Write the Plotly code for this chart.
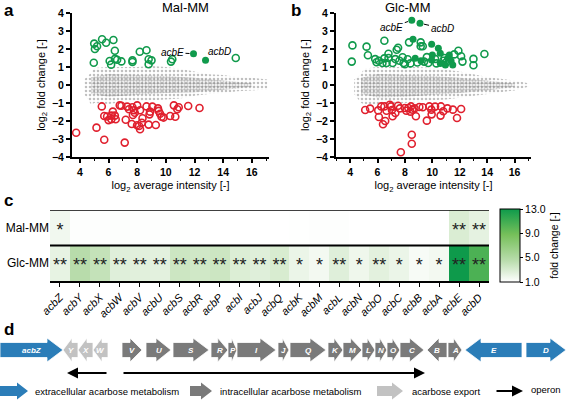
import plotly.graph_objects as go

FONT = "Liberation Sans, Arial, sans-serif"
GREEN = "#109a4c"
RED = "#e0202e"
BLUE = "#2b7db8"
DGREY = "#7a7a7a"
LGREY = "#c2c2c2"

# ---------------- Panel a (Mal-MM) data ----------------
a_up_x = [5.0, 5.2, 5.05, 5.55, 5.83, 6.34, 6.44, 4.97, 6.08, 6.18, 6.45, 6.6, 6.9, 7.67, 7.67, 8.18, 8.65, 8.8, 9.0, 8.8, 10.36, 10.45, 14.88]
a_up_y = [2.3, 2.15, 2.0, 2.54, 2.35, 2.5, 1.9, 1.24, 1.33, 1.13, 1.45, 1.4, 1.31, 1.37, 1.28, 1.85, 1.93, 1.43, 1.37, 1.15, 1.3, 1.43, 1.5]
a_acb_x = [11.93, 12.77]
a_acb_y = [1.74, 1.37]
a_acb_lbl = ["acbE", "acbD"]
a_dn_x = [3.74, 5.53, 5.7, 5.16, 5.7, 6.3, 6.2, 6.44, 6.2, 6.5, 7.2, 7.13, 6.78, 7.3, 7.43, 7.67, 7.77, 7.7, 7.83, 7.62,
          8.0, 8.2, 8.37, 8.32, 8.13, 8.2, 7.99, 8.8, 8.65, 8.9, 9.06, 8.86, 9.3, 9.45, 9.6, 9.7, 9.84, 9.5, 10.3, 10.66,
          10.56, 10.9, 10.8, 11.56, 12.35, 6.9, 5.9, 6.0]
a_dn_y = [-2.65, -1.19, -1.72, -2.37, -3.04, -1.48, -1.7, -1.7, -1.9, -1.9, -1.93, -3.2, -1.13, -1.2, -1.35, -1.24, -1.4, -1.67, -1.54, -2.17,
          -1.13, -1.4, -1.85, -2.1, -2.28, -2.46, -2.24, -2.2, -1.19, -1.48, -1.2, -1.63, -2.22, -1.3, -1.6, -1.76, -1.81, -1.44, -1.72, -1.76,
          -1.13, -1.24, -1.35, -1.17, -1.28, -1.15, -1.75, -1.95]
# envelope of the grey cloud of unchanged genes (outer / dense core)
a_cloud_x = [4.3, 4.8, 5, 6, 7, 8, 9, 10, 11, 12, 13, 14, 15, 16, 17.1]
a_cloud_hi = [0.3, 0.7, 0.95, 1.0, 1.0, 1.0, 1.05, 1.0, 0.9, 0.75, 0.6, 0.55, 0.45, 0.4, 0.3]
a_cloud_lo = [-0.5, -1.1, -1.0, -1.05, -0.95, -0.9, -0.85, -0.8, -0.75, -0.6, -0.5, -0.45, -0.35, -0.3, -0.25]
a_core_x = [4.8, 6, 8, 10, 12, 13.5, 15, 16]
a_core_hi = [0.45, 0.6, 0.55, 0.5, 0.4, 0.3, 0.2, 0.1]
a_core_lo = [-0.5, -0.65, -0.55, -0.45, -0.4, -0.3, -0.2, -0.1]

# ---------------- Panel b (Glc-MM) data ----------------
b_up_x = [4.17, 4.12, 5.2, 5.3, 6.5, 5.83, 5.93, 6.1, 6.36, 6.5, 6.8, 6.8, 6.66, 7.1, 7.3, 7.4, 7.5, 7.6, 7.83, 7.9,
          8.2, 8.3, 9.15, 9.15, 9.3, 8.4, 8.9, 9.4, 9.7, 10.2, 10.3, 10.8, 11.0, 11.6, 11.9, 12.1, 12.2, 13.0, 13.0, 13.8, 8.0, 9.6, 10.9]
b_up_y = [2.2, 1.3, 2.13, 1.65, 2.46, 1.44, 1.26, 1.35, 1.22, 1.48, 1.74, 1.5, 1.22, 1.22, 1.44, 1.96, 2.07, 1.35, 1.54, 1.22,
          1.43, 2.37, 2.37, 2.15, 2.15, 1.2, 1.25, 1.3, 1.22, 1.45, 1.2, 1.35, 1.25, 1.7, 1.9, 1.6, 1.3, 1.45, 1.1, 1.72, 1.15, 1.55, 1.5]
b_fill_x = [8.59, 9.95, 10.44, 10.58, 10.0, 9.95, 11.24, 11.12, 11.37, 11.49, 9.17, 8.75, 10.58, 10.95]
b_fill_y = [2.54, 2.26, 2.04, 1.76, 1.67, 1.39, 1.67, 1.48, 1.33, 1.11, 1.35, 1.48, 1.2, 1.11]
b_acb_x = [8.5, 9.1]
b_acb_y = [3.6, 3.43]
b_acb_lbl = ["acbE", "acbD"]
b_dn_x = [5.1, 5.46, 6.05, 6.1, 6.27, 6.5, 6.66, 6.56, 6.4, 6.98, 7.05, 7.1, 7.3, 7.63, 8.0, 8.1, 8.25, 8.44, 8.55, 8.4,
          8.8, 9.05, 9.3, 9.6, 9.78, 9.93, 9.95, 10.6, 10.63, 10.8, 11.1, 11.5, 11.8, 12.1, 8.5, 8.5, 7.7, 6.9, 7.5, 8.7, 10.2]
b_dn_y = [-1.39, -1.31, -1.41, -1.78, -1.19, -1.19, -1.43, -2.0, -2.18, -1.19, -1.39, -1.74, -1.56, -1.3, -1.28, -1.43, -1.28, -1.19, -1.37, -1.48,
          -1.74, -1.22, -1.24, -1.98, -1.19, -1.37, -1.63, -1.7, -1.19, -1.46, -1.3, -1.37, -1.83, -1.33, -2.76, -3.26, -3.74, -1.1, -1.15, -1.3, -1.2]
b_cloud_x = [4.3, 4.8, 5, 6, 7, 8, 9, 10, 11, 12, 13, 14, 15, 16, 17]
b_cloud_hi = [0.3, 0.6, 0.9, 1.0, 1.0, 1.0, 1.0, 0.95, 0.85, 0.75, 0.6, 0.45, 0.35, 0.25, 0.1]
b_cloud_lo = [-0.5, -1.0, -1.05, -1.1, -1.05, -1.0, -0.95, -0.85, -0.8, -0.7, -0.6, -0.5, -0.4, -0.3, -0.1]
b_core_x = [4.8, 6, 8, 10, 12, 14, 16]
b_core_hi = [0.4, 0.6, 0.55, 0.5, 0.4, 0.25, 0.08]
b_core_lo = [-0.5, -0.7, -0.65, -0.55, -0.45, -0.3, -0.1]

# ---------------- Panel c heatmap data ----------------
heat_genes = ["acbZ", "acbY", "acbX", "acbW", "acbV", "acbU", "acbS", "acbR", "acbP", "acbI", "acbJ",
              "acbQ", "acbK", "acbM", "acbL", "acbN", "acbO", "acbC", "acbB", "acbA", "acbE", "acbD"]
heat_rows = ["Glc-MM", "Mal-MM"]
fc_mal = [1.7, 1.1, 1.1, 1.15, 1.1, 1.1, 1.05, 1.0, 1.0, 1.0, 1.0, 1.0, 1.05, 1.1, 1.1, 1.0, 1.0, 1.0, 1.0, 1.0, 2.9, 2.3]
fc_glc = [2.2, 4.6, 4.0, 2.6, 2.5, 2.4, 3.6, 3.4, 3.6, 2.8, 2.6, 3.0, 2.0, 1.6, 2.6, 1.8, 2.4, 2.0, 1.4, 1.6, 13.0, 10.5]
sig_mal = ["*", "", "", "", "", "", "", "", "", "", "", "", "", "", "", "", "", "", "", "", "**", "**"]
sig_glc = ["**"] * 12 + ["*", "*", "**", "*", "**", "*", "*", "*", "**", "**"]
cbar_ticks = [1.0, 5.0, 9.0, 13.0]

# ---------------- Panel d gene cluster data ----------------
gene_lbl = ["acbZ", "Y", "X", "W", "V", "U", "S", "R", "P", "I", "J", "Q", "K", "M", "L", "N", "O", "C", "B", "A", "E", "D"]
gene_start = [0, 63, 78, 93, 122, 146, 173, 211, 228, 237, 278, 290, 328, 343, 362, 375, 387, 400, 427, 448, 465, 526]
gene_end = [63, 78, 93, 108, 142, 171, 209, 228, 237, 276, 289, 326, 343, 362, 375, 387, 400, 424, 447, 462, 522, 566]
gene_strand = [1, -1, -1, -1, 1, 1, 1, 1, 1, 1, 1, 1, 1, 1, 1, 1, 1, 1, -1, 1, -1, 1]
gene_group = ["ext", "exp", "exp", "exp"] + ["int"] * 16 + ["ext", "ext"]
operon_from = [108, 122]
operon_to = [67, 425]

group_color = {"ext": BLUE, "int": DGREY, "exp": LGREY}

fig = go.Figure()

# ---------- scatter panels ----------
def closed(xs, hi, lo):
    return xs + xs[::-1] + [xs[0]], hi + lo[::-1] + [hi[0]]

def add_ma(xa, ya, cx, chi, clo, kx, khi, klo, upx, upy, dnx, dny, accx, accy):
    px_, py_ = closed(cx, chi, clo)
    fig.add_trace(go.Scatter(x=px_, y=py_, mode="lines", fill="toself", line=dict(width=0),
                             fillcolor="rgba(0,0,0,0)",
                             fillpattern=dict(shape=".", fgcolor="#808080", bgcolor="rgba(255,255,255,0)",
                                              size=4, solidity=0.32),
                             hoverinfo="skip", showlegend=False, xaxis=xa, yaxis=ya))
    qx, qy = closed(kx, khi, klo)
    fig.add_trace(go.Scatter(x=qx, y=qy, mode="lines", fill="toself", line=dict(width=0),
                             fillcolor="rgba(125,125,125,0.75)",
                             fillpattern=dict(shape=".", fgcolor="#777777", bgcolor="rgba(255,255,255,0)",
                                              size=3, solidity=0.5),
                             hoverinfo="skip", showlegend=False, xaxis=xa, yaxis=ya))
    fig.add_trace(go.Scatter(x=upx, y=upy, mode="markers", cliponaxis=False,
                             marker=dict(symbol="circle-open", size=7, color=GREEN, line=dict(width=1.6)),
                             showlegend=False, xaxis=xa, yaxis=ya))
    fig.add_trace(go.Scatter(x=dnx, y=dny, mode="markers", cliponaxis=False,
                             marker=dict(symbol="circle-open", size=7, color=RED, line=dict(width=1.6)),
                             showlegend=False, xaxis=xa, yaxis=ya))
    fig.add_trace(go.Scatter(x=accx, y=accy, mode="markers", cliponaxis=False,
                             marker=dict(symbol="circle", size=7, color=GREEN),
                             showlegend=False, xaxis=xa, yaxis=ya))

add_ma("x", "y", a_cloud_x, a_cloud_hi, a_cloud_lo, a_core_x, a_core_hi, a_core_lo,
       a_up_x, a_up_y, a_dn_x, a_dn_y, a_acb_x, a_acb_y)
add_ma("x2", "y2", b_cloud_x, b_cloud_hi, b_cloud_lo, b_core_x, b_core_hi, b_core_lo,
       b_up_x, b_up_y, b_dn_x, b_dn_y, b_fill_x + b_acb_x, b_fill_y + b_acb_y)

ann = []
# acb gene callouts (text offsets in pixels)
for (x0, y0, lbl, axp, ayp, xr, yr) in [
    (a_acb_x[0], a_acb_y[0], a_acb_lbl[0], -21, -1, "x", "y"),
    (a_acb_x[1], a_acb_y[1], a_acb_lbl[1], 14, -9, "x", "y"),
    (b_acb_x[0], b_acb_y[0], b_acb_lbl[0], -20, 7, "x2", "y2"),
    (b_acb_x[1], b_acb_y[1], b_acb_lbl[1], 22, 5, "x2", "y2"),
]:
    ann.append(dict(x=x0, y=y0, xref=xr, yref=yr, ax=axp, ay=ayp, text=f"<i>{lbl}</i>",
                    showarrow=True, arrowhead=0, arrowwidth=1, arrowcolor="black", standoff=4,
                    font=dict(family=FONT, size=10, color="black")))

# ---------- heatmap ----------
fig.add_trace(go.Heatmap(z=[fc_glc, fc_mal], x=list(range(len(heat_genes))), y=[0, 1],
                         zmin=1, zmax=13,
                         colorscale=[[0, "#ffffff"], [0.3, "#b8dcab"], [0.65, "#76c05a"], [1, "#0e9a4b"]],
                         xaxis="x3", yaxis="y3", hoverinfo="skip",
                         colorbar=dict(x=500 / 567, xanchor="left", y=1 - 245.5 / 403, yanchor="middle",
                                       len=73 / 403, lenmode="fraction", thickness=20, xpad=0, ypad=0,
                                       outlinewidth=1, outlinecolor="black",
                                       tickvals=cbar_ticks, ticktext=[f"{v:.1f}" for v in cbar_ticks],
                                       ticks="outside", ticklen=3, tickcolor="black",
                                       tickfont=dict(family=FONT, size=10.5, color="black"),
                                       title=dict(text="fold change [-]", side="right",
                                                  font=dict(family=FONT, size=10.5, color="black")))))
fig.add_trace(go.Scatter(x=list(range(len(heat_genes))) * 2, y=[0.9] * len(heat_genes) + [-0.1] * len(heat_genes),
                         text=sig_mal + sig_glc, mode="text", cliponaxis=False,
                         textfont=dict(family=FONT, size=18, color="#222"),
                         showlegend=False, hoverinfo="skip", xaxis="x3", yaxis="y3"))

# ---------- gene cluster (panel d) ----------
shapes = []
yc, body, head = 350, 7.5, 12
for s, e, st, g, lbl in zip(gene_start, gene_end, gene_strand, gene_group, gene_lbl):
    L = e - s
    h = min(16, 0.6 * L)
    if st > 0:
        p = (f"M {s},{yc-body} L {e-h},{yc-body} L {e-h},{yc-head} L {e},{yc} "
             f"L {e-h},{yc+head} L {e-h},{yc+body} L {s},{yc+body} Z")
    else:
        p = (f"M {e},{yc-body} L {s+h},{yc-body} L {s+h},{yc-head} L {s},{yc} "
             f"L {s+h},{yc+head} L {s+h},{yc+body} L {e},{yc+body} Z")
    shapes.append(dict(type="path", path=p, xref="x4", yref="y4", fillcolor=group_color[g],
                       line=dict(width=0.8, color="white")))
    ann.append(dict(x=(s + e) / 2, y=yc, xref="x4", yref="y4", text=f"<b><i>{lbl}</i></b>",
                    showarrow=False, font=dict(family=FONT, size=8, color="white")))

for f, t in zip(operon_from, operon_to):
    ann.append(dict(x=t, y=373, ax=f, ay=373, xref="x4", yref="y4", axref="x4", ayref="y4",
                    text="", showarrow=True, arrowhead=2, arrowsize=1, arrowwidth=2.2, arrowcolor="black"))

# legend of panel d
def leg_arrow(s, e, color):
    yl, bb, hh, h = 391, 5, 8.5, 11
    p = (f"M {s},{yl-bb} L {e-h},{yl-bb} L {e-h},{yl-hh} L {e},{yl} "
         f"L {e-h},{yl+hh} L {e-h},{yl+bb} L {s},{yl+bb} Z")
    shapes.append(dict(type="path", path=p, xref="x4", yref="y4", fillcolor=color, line=dict(width=0)))

leg_arrow(0, 28, BLUE)
leg_arrow(190, 212, DGREY)
leg_arrow(377, 403, LGREY)
ann.append(dict(x=523, y=391, ax=495, ay=391, xref="x4", yref="y4", axref="x4", ayref="y4",
                text="", showarrow=True, arrowhead=2, arrowsize=1, arrowwidth=2.2, arrowcolor="black"))
for x0, txt in [(33, "extracellular acarbose metabolism"), (218, "intracellular acarbose metabolism"),
                (410, "acarbose export"), (529, "operon")]:
    ann.append(dict(x=x0, y=391 if txt != "operon" else 389, xref="x4", yref="y4", text=txt, showarrow=False,
                    xanchor="left", font=dict(family=FONT, size=9.5, color="black")))

# heatmap frame lines
shapes.append(dict(type="line", x0=-0.5, x1=len(heat_genes) - 0.5, y0=1.5, y1=1.5, xref="x3", yref="y3",
                   line=dict(color="black", width=1.5)))
shapes.append(dict(type="line", x0=-0.5, x1=len(heat_genes) - 0.5, y0=0.5, y1=0.5, xref="x3", yref="y3",
                   line=dict(color="black", width=2)))

# panel letters and titles
for x0, y0, t in [(2, 10, "a"), (289, 10, "b"), (2, 201, "c"), (2, 329, "d")]:
    ann.append(dict(x=x0 / 567, y=1 - y0 / 403, xref="paper", yref="paper", text=f"<b>{t}</b>",
                    showarrow=False, xanchor="left", yanchor="middle",
                    font=dict(family=FONT, size=17, color="black")))
for x0, t in [(160, "Mal-MM"), (433, "Glc-MM")]:
    ann.append(dict(x=x0 / 567, y=1 - 8 / 403, xref="paper", yref="paper", text=t, showarrow=False,
                    yanchor="middle", font=dict(family=FONT, size=13, color="black")))

def ma_axes(dom_x, rng):
    ax = dict(domain=dom_x, range=rng, tickvals=[4, 6, 8, 10, 12, 14, 16], ticks="outside", ticklen=4,
              tickwidth=1.5, tickcolor="black", showline=True, linewidth=2, linecolor="black",
              showgrid=False, zeroline=False,
              minor=dict(dtick=1, ticks="outside", ticklen=2, tickwidth=1.2, tickcolor="black", tick0=3),
              tickfont=dict(family=FONT, size=10.5, color="black", weight="bold"),
              title=dict(text="log<sub>2</sub> average intensity [-]", standoff=5,
                         font=dict(family=FONT, size=11, color="black")))
    ay = dict(domain=[1 - 157 / 403, 1 - 13 / 403], range=[-4, 4], dtick=1, ticks="outside", ticklen=4,
              tickwidth=1.5, tickcolor="black", showline=True, linewidth=2, linecolor="black",
              showgrid=False, zeroline=False,
              tickfont=dict(family=FONT, size=10.5, color="black", weight="bold"),
              title=dict(text="log<sub>2</sub> fold change [-]", standoff=4,
                         font=dict(family=FONT, size=11, color="black")))
    return ax, ay

xa, ya = ma_axes([72 / 567, 269 / 567], [3.45, 17.2])
xb, yb = ma_axes([336 / 567, 531 / 567], [2.97, 17.2])
xa["anchor"] = "y"; ya["anchor"] = "x"
xb["anchor"] = "y2"; yb["anchor"] = "x2"

fig.update_layout(
    width=567, height=403, margin=dict(l=0, r=0, t=0, b=0, autoexpand=False),
    paper_bgcolor="white", plot_bgcolor="rgba(0,0,0,0)", showlegend=False,
    font=dict(family=FONT, color="black"),
    xaxis=xa, yaxis=ya, xaxis2=xb, yaxis2=yb,
    xaxis3=dict(domain=[50 / 567, 489 / 567], anchor="y3", range=[-0.5, len(heat_genes) - 0.5],
                tickvals=list(range(len(heat_genes))), ticktext=[f"<i>{g}</i>" for g in heat_genes],
                tickangle=-45, ticks="outside", ticklen=4, tickcolor="black", showline=True,
                linecolor="black", linewidth=1.5, showgrid=False, zeroline=False,
                tickfont=dict(family=FONT, size=11, color="black")),
    yaxis3=dict(domain=[1 - 281 / 403, 1 - 210 / 403], anchor="x3", range=[-0.5, 1.5],
                tickvals=[0, 1], ticktext=heat_rows, ticks="", showline=False, showgrid=False,
                zeroline=False, tickfont=dict(family=FONT, size=12, color="black")),
    xaxis4=dict(domain=[0, 1], anchor="y4", range=[0, 567], visible=False),
    yaxis4=dict(domain=[0, 1 - 330 / 403], anchor="x4", range=[403, 330], visible=False),
    shapes=shapes, annotations=ann,
)

fig.write_html("out.html", config={"displayModeBar": False},
               post_script="document.body.style.margin='0';document.body.style.overflow='hidden';")
